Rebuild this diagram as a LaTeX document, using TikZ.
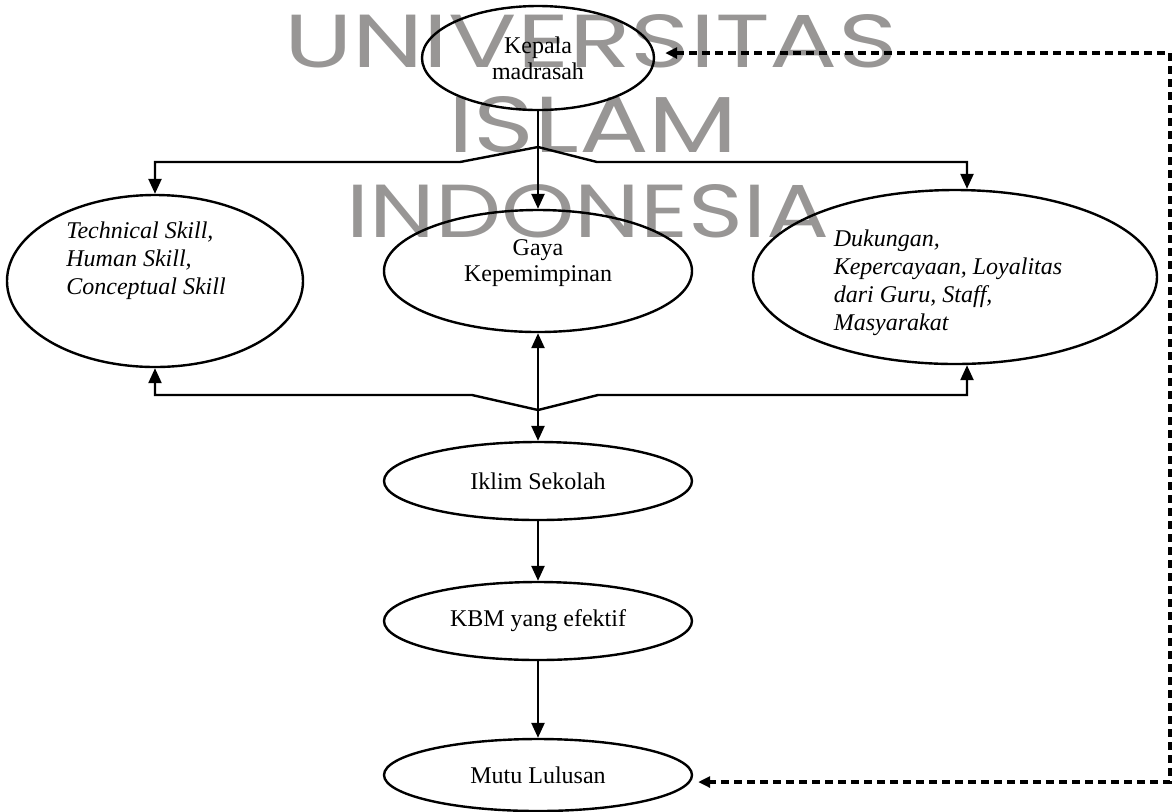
\documentclass[tikz,border=0pt]{standalone}
\usepackage{fontspec}
\setmainfont{Liberation Serif}
\newfontfamily\wmfont{Poppins}
\usetikzlibrary{arrows.meta,shapes.geometric}
\definecolor{wmgray}{RGB}{152,150,149}
\begin{document}
\begin{tikzpicture}[x=0.5pt,y=-0.5pt,
  oval/.style={draw, ellipse, line width=1.2pt, inner sep=0pt},
  lbl/.style={font=\fontsize{12}{12.8}\selectfont, align=center, inner sep=0pt},
  ilbl/.style={font=\fontsize{12}{14}\selectfont\itshape, align=left, inner sep=0pt},
  conn/.style={line width=1.2pt},
  arr/.style={conn,-{Triangle[length=7.5pt,width=6.5pt]}},
  darr/.style={conn,{Triangle[length=7.5pt,width=6.5pt]}-{Triangle[length=7.5pt,width=6.5pt]}},
  dashconn/.style={line width=1.6pt, dash pattern=on 4pt off 2.5pt,
    {Triangle[length=6pt,width=5.5pt]}-{Triangle[length=6pt,width=5.5pt]}},
  wm/.style={text=wmgray, inner sep=0pt}
]
\useasboundingbox (0,0) rectangle (1173,811);

% watermark
\node[wm] (wm1) at (591,41.5) {\resizebox{306.5pt}{26.5pt}{\wmfont UNIVERSITAS}};
\node[wm] (wm2) at (593,125) {\resizebox{145pt}{28pt}{\wmfont ISLAM}};
\node[wm] (wm3) at (588,211.5) {\resizebox{241.5pt}{26.5pt}{\wmfont INDONESIA}};

% nodes
\node[oval, lbl, minimum width=116pt, minimum height=52pt] (kepala) at (538,58) {Kepala\\madrasah};
\node[oval, minimum width=148pt, minimum height=86pt] (tech) at (155,281) {};
\node[ilbl] (techtext) at (146,261) {Technical Skill,\\Human Skill,\\Conceptual Skill};
\node[oval, minimum width=154pt, minimum height=61pt] (gaya) at (538,271) {};
\node[lbl] (gayatext) at (538,263) {Gaya\\Kepemimpinan};
\node[oval, minimum width=202pt, minimum height=87pt] (duk) at (955,277) {};
\node[ilbl] (duktext) at (948,283) {Dukungan,\\Kepercayaan, Loyalitas\\dari Guru, Staff,\\Masyarakat};
\node[oval, lbl, minimum width=154pt, minimum height=39pt] (iklim) at (538,481) {Iklim Sekolah};
\node[oval, lbl, minimum width=154pt, minimum height=39pt] (kbm) at (538,621) {KBM yang efektif};
\node[oval, lbl, minimum width=154pt, minimum height=36pt] (mutu) at (538,775) {Mutu Lulusan};

% connectors
\coordinate (tp) at (538,147);
\coordinate (bp) at (538,410);
\draw[arr] (kepala.south) -- (gaya.north);
\draw[arr] (tp) -- (460,162) -- (tech.north |- 0,162) -- (tech.north);
\draw[arr] (tp) -- (597,162) -- (967,162) -- ([xshift=6pt]duk.north);
\draw[darr] (gaya.south) -- (iklim.north);
\draw[arr] (bp) -- (472,395) -- (tech.south |- 0,395) -- (tech.south);
\draw[arr] (bp) -- (598,395) -- (967,395) -- ([xshift=6pt]duk.south);
\draw[arr] (iklim.south) -- (kbm.north);
\draw[arr] (kbm.south) -- (mutu.north);
\draw[dashconn] ([xshift=5pt,yshift=2.5pt]kepala.east) -| (1170,782) -- ([xshift=2.5pt,yshift=-3.5pt]mutu.east);
\end{tikzpicture}
\end{document}
